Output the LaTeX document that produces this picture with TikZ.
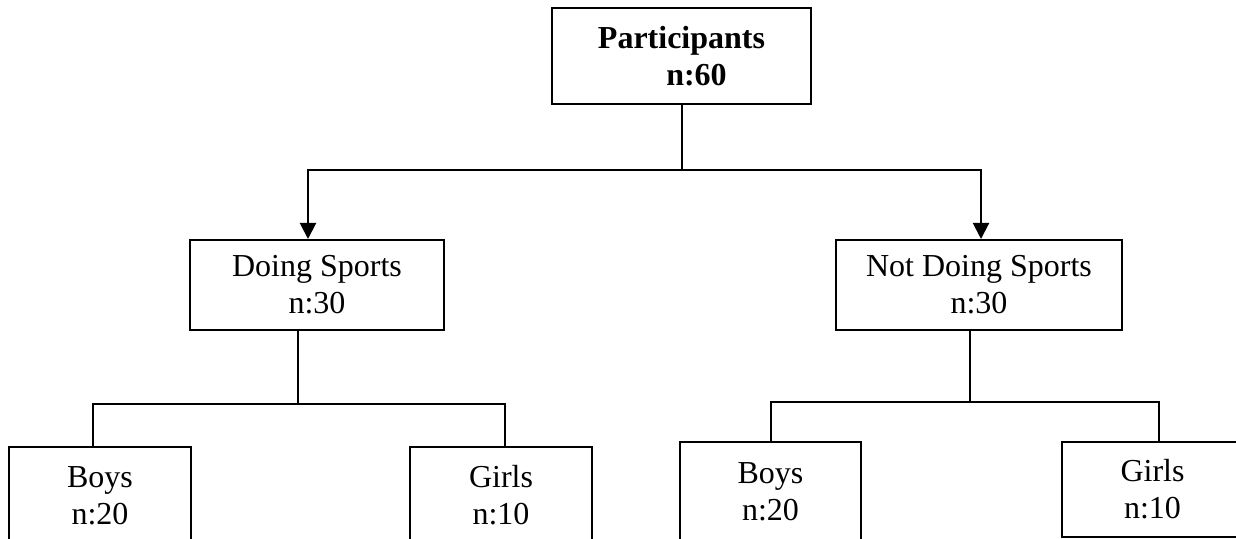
\documentclass[tikz,border=0pt]{standalone}
\usepackage{fontspec}
\setmainfont{Liberation Serif}
\usepackage{tikz}
\usetikzlibrary{arrows.meta}
\usepackage{xcolor}
\definecolor{inkblack}{RGB}{0,0,0}

\begin{document}
\begin{tikzpicture}[x=0.5pt, y=-0.5pt,
    box/.style={draw=inkblack, line width=1pt, inner sep=0pt, align=center,
      font=\fontsize{16}{18.5}\selectfont, fill=white},
    link/.style={draw=inkblack, line width=1pt},
    arr/.style={link, -{Triangle[width=8pt,length=8pt]}}]
        \useasboundingbox (0,0) rectangle (1236,539);
        \clip (0,0) rectangle (1236,539);
        % Top box
        \node[box, font=\fontsize{16}{18.5}\selectfont\bfseries,
          minimum width=129.5pt, minimum height=48pt] (root) at (681.5,56)
          {Participants\\\hspace*{15pt}n:60};
        % Second row
        \node[box, minimum width=127pt, minimum height=45pt] (sport) at (317,285)
          {Doing Sports\\n:30};
        \node[box, minimum width=143pt, minimum height=45pt] (nosport) at (979,285)
          {Not Doing Sports\\n:30};
        % Bottom row (cut by the page edge)
        \node[box, minimum width=91pt, minimum height=49pt] (sboys) at (100,495.5)
          {Boys\\n:20};
        \node[box, minimum width=91pt, minimum height=49pt] (sgirls) at (501,495.5)
          {Girls\\n:10};
        \node[box, minimum width=90.5pt, minimum height=50pt] (nboys) at (770.5,492)
          {Boys\\n:20};
        \node[box, minimum width=90.5pt, minimum height=47.5pt] (ngirls) at (1152.5,489.5)
          {Girls\\n:10};
        % Junctions
        \coordinate (rj) at (681.5,170);
        \coordinate (sj) at (298,404);
        \coordinate (nj) at (970,402);
        % Arrows from the top box
        \draw[arr] (root.south) -- (rj) -| ([xshift=-4.5pt]sport.north);
        \draw[arr] (rj) -| ([xshift=1pt]nosport.north);
        % Doing sports split
        \draw[link] ([xshift=-9.5pt]sport.south) -- (sj);
        \draw[link] (sj) -| ([xshift=-3.5pt]sboys.north);
        \draw[link] (sj) -| ([xshift=2pt]sgirls.north);
        % Not doing sports split
        \draw[link] ([xshift=-4.5pt]nosport.south) -- (nj);
        \draw[link] (nj) -| (nboys.north);
        \draw[link] (nj) -| ([xshift=3.25pt]ngirls.north);
      \end{tikzpicture}
\end{document}
